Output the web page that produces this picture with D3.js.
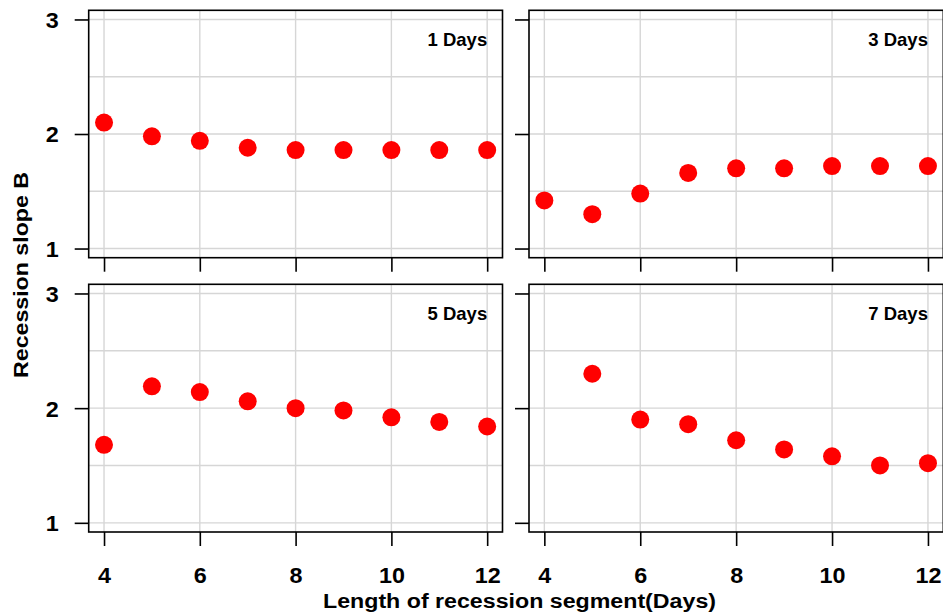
<!DOCTYPE html>
<html>
<head>
<meta charset="utf-8">
<script src="https://cdn.jsdelivr.net/npm/d3@7"></script>
<style>
  html, body { margin: 0; padding: 0; background: #fff; }
  svg { display: block; }
  text { font-family: "Liberation Sans", Arial, sans-serif; font-weight: bold; fill: #000; }
</style>
</head>
<body>
<svg id="chart" width="943" height="614"></svg>
<script>
// Recession segment length (days)
const lengths = [4, 5, 6, 7, 8, 9, 10, 11, 12];

// Recession slope B for each smoothing window
const slope1Day = [2.10, 1.98, 1.94, 1.88, 1.86, 1.86, 1.86, 1.86, 1.86];
const slope3Day = [1.42, 1.30, 1.48, 1.66, 1.70, 1.70, 1.72, 1.72, 1.72];
const slope5Day = [1.68, 2.19, 2.14, 2.06, 2.00, 1.98, 1.92, 1.88, 1.84];
const slope7Day = [null, 2.30, 1.90, 1.86, 1.72, 1.64, 1.58, 1.50, 1.52];

const panelTitles = ["1 Days", "3 Days", "5 Days", "7 Days"];
const xTicks = [4, 6, 8, 10, 12];
const yTicks = [1, 2, 3];
const yGrid = [1, 1.5, 2, 2.5, 3];

const xTitle = "Length of recession segment(Days)";
const yTitle = "Recession slope B";

const series = [slope1Day, slope3Day, slope5Day, slope7Day];

const svg = d3.select("#chart");

// Panel frames: [left, right] columns and [top, bottom] rows
const cols = [[88.7, 502.5], [529, 943.3]];
const rows = [[10.3, 257.7], [284.3, 532]];

const xDomain = [3.68, 12.32];
const yDomain = [0.92, 3.08];

// wide bold digits for tick labels
function styleTickText(sel) {
  sel.attr("font-size", 22)
    .style("font-family", "'Liberation Sans', Arial, sans-serif")
    .style("font-weight", "bold")
    .each(function () {
      const t = d3.select(this);
      const s = t.text();
      if (s) t.attr("textLength", s.length * 13).attr("lengthAdjust", "spacingAndGlyphs");
    });
}

series.forEach((vals, i) => {
  const c = i % 2, r = Math.floor(i / 2);
  const [x0, x1] = cols[c];
  const [y0, y1] = rows[r];
  const x = d3.scaleLinear().domain(xDomain).range([x0, x1]);
  const y = d3.scaleLinear().domain(yDomain).range([y1, y0]);

  const g = svg.append("g");

  // grid
  g.append("g").selectAll("line").data(xTicks).join("line")
    .attr("x1", d => x(d)).attr("x2", d => x(d))
    .attr("y1", y0).attr("y2", y1)
    .attr("stroke", "#d6d6d6").attr("stroke-width", 1.4);
  g.append("g").selectAll("line").data(yGrid).join("line")
    .attr("x1", x0).attr("x2", x1)
    .attr("y1", d => y(d)).attr("y2", d => y(d))
    .attr("stroke", "#d6d6d6").attr("stroke-width", 1.4);

  // axes
  const xAxis = g.append("g")
    .attr("transform", `translate(0,${y1})`)
    .call(d3.axisBottom(x).tickValues(xTicks).tickSize(14).tickSizeOuter(0)
      .tickFormat(r === 1 ? d3.format("d") : () => ""));
  xAxis.select(".domain").remove();
  xAxis.selectAll(".tick line").attr("stroke", "#000").attr("stroke-width", 1.6);
  xAxis.selectAll(".tick text").attr("y", 51).attr("dy", 0).call(styleTickText);

  const yAxis = g.append("g")
    .attr("transform", `translate(${x0},0)`)
    .call(d3.axisLeft(y).tickValues(yTicks).tickSize(14).tickSizeOuter(0)
      .tickFormat(c === 0 ? d3.format("d") : () => ""));
  yAxis.select(".domain").remove();
  yAxis.selectAll(".tick line").attr("stroke", "#000").attr("stroke-width", 1.6);
  yAxis.selectAll(".tick text").attr("x", -30).attr("dy", "0.36em").call(styleTickText);

  // frame
  g.append("rect")
    .attr("x", x0).attr("y", y0)
    .attr("width", x1 - x0).attr("height", y1 - y0)
    .attr("fill", "none").attr("stroke", "#000").attr("stroke-width", 1.6);

  // points
  const pts = lengths.map((l, k) => ({ l, v: vals[k] })).filter(d => d.v != null);
  g.append("g").selectAll("circle").data(pts).join("circle")
    .attr("cx", d => x(d.l)).attr("cy", d => y(d.v))
    .attr("r", 9).attr("fill", "#ff0000");

  // panel label
  g.append("text")
    .attr("x", x(12)).attr("y", y0 + 36)
    .attr("text-anchor", "end")
    .attr("font-size", 18.5)
    .text(panelTitles[i]);
});

// axis titles
svg.append("text")
  .attr("x", 519.5).attr("y", 608)
  .attr("text-anchor", "middle")
  .attr("font-size", 20)
  .attr("textLength", 393).attr("lengthAdjust", "spacingAndGlyphs")
  .text(xTitle);

svg.append("text")
  .attr("transform", "translate(28,275) rotate(-90)")
  .attr("text-anchor", "middle")
  .attr("font-size", 21)
  .attr("textLength", 206).attr("lengthAdjust", "spacingAndGlyphs")
  .text(yTitle);
</script>
</body>
</html>
